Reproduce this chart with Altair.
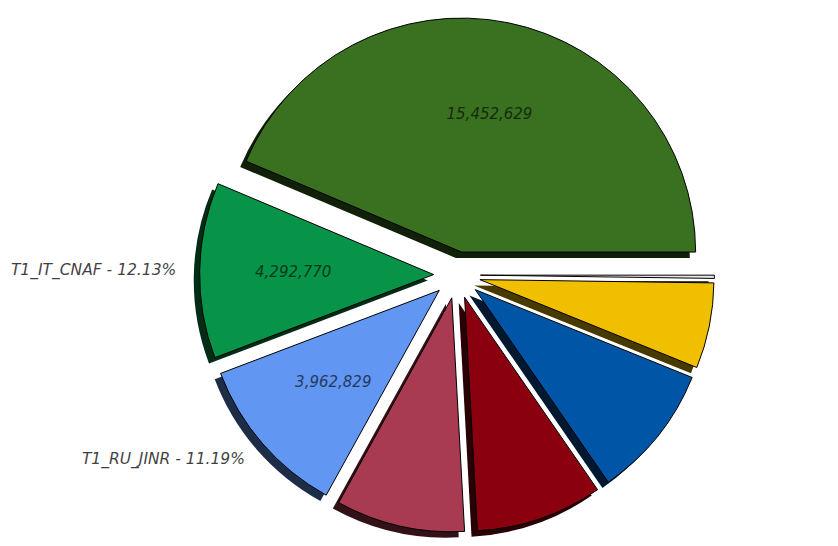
import altair as alt
import pandas as pd

# ---- data ----
names = ["T1_US_FNAL", "T1_IT_CNAF", "T1_RU_JINR", "T1_DE_KIT",
         "T1_FR_CCIN2P3", "T1_UK_RAL", "T1_ES_PIC", "T1_TW_ASGC"]
values = [15452629, 4292770, 3962829, 3151000, 3098000, 3275000, 2090000, 78772]
colors = ["#3a7121", "#079448", "#6196f2", "#a83b52",
          "#8a000f", "#0055a6", "#f0c000", "#e8e8e8"]


def darker(hexcol, f=0.3):
    h = hexcol.lstrip("#")
    r, g, b = (int(h[i:i + 2], 16) for i in (0, 2, 4))
    return "#%02x%02x%02x" % (int(r * f), int(g * f), int(b * f))


shadows = [darker(c) for c in colors]

df = pd.DataFrame({
    "idx": list(range(len(names))),
    "name": names,
    "value": values,
    "color": colors,
    "shadow": shadows,
})

# ---- layout / style ----
W, H = 838, 546
CX, CY, R = 457, 275, 234          # pie centre and radius in pixels
EXPLODE = 0.1
SHADOW = 0.025
PCTDIST = 0.6
LABELDIST = 1.1

xdom = [(0 - CX) / R, (W - CX) / R]
ydom = [(CY - H) / R, CY / R]
xs = alt.Scale(domain=xdom, zero=False, nice=False)
ys = alt.Scale(domain=ydom, zero=False, nice=False)

base = alt.Chart(df).transform_window(
    cum="sum(value)", sort=[alt.SortField("idx", order="ascending")],
    frame=[None, 0]
).transform_joinaggregate(
    total="sum(value)"
).transform_calculate(
    e="datum.cum / datum.total",
    s="(datum.cum - datum.value) / datum.total",
).transform_calculate(
    m="PI * (datum.s + datum.e)",
    t1="PI / 2 - 2 * PI * datum.e",
    t2="PI / 2 - 2 * PI * datum.s",
    pct="100 * datum.value / datum.total",
).transform_calculate(
    cx=f"{EXPLODE} * cos(datum.m)",
    cy=f"{EXPLODE} * sin(datum.m)",
).transform_calculate(
    sx=f"datum.cx - {SHADOW}",
    sy=f"datum.cy - {SHADOW}",
    vx=f"datum.cx + {PCTDIST} * cos(datum.m)",
    vy=f"datum.cy + {PCTDIST} * sin(datum.m)",
    lx=f"datum.cx + {LABELDIST} * cos(datum.m)",
    ly=f"datum.cy + {LABELDIST} * sin(datum.m)",
    vtext="format(datum.value, ',')",
    ltext="datum.name + ' - ' + format(datum.pct, '.2f') + '%'",
)

noax = dict(axis=None)

shadow_layer = base.mark_arc(radius=R, stroke=None).encode(
    x=alt.X("sx:Q", scale=xs, **noax),
    y=alt.Y("sy:Q", scale=ys, **noax),
    theta=alt.Theta("t1:Q", scale=None),
    theta2="t2:Q",
    color=alt.Color("shadow:N", scale=None),
)

wedge_layer = base.mark_arc(radius=R, stroke="black", strokeWidth=1).encode(
    x=alt.X("cx:Q", scale=xs, **noax),
    y=alt.Y("cy:Q", scale=ys, **noax),
    theta=alt.Theta("t1:Q", scale=None),
    theta2="t2:Q",
    color=alt.Color("color:N", scale=None),
)

big = base.transform_filter("datum.pct >= 10")

value_layer = big.mark_text(
    font="DejaVu Sans", fontSize=15, fontStyle="italic",
    color="black", opacity=0.62, align="center", baseline="middle",
).encode(
    x=alt.X("vx:Q", scale=xs, **noax),
    y=alt.Y("vy:Q", scale=ys, **noax),
    text="vtext:N",
)

# outer labels: only those that fall inside the visible area (the top one
# lies beyond the upper edge in the reference)
outer = big.transform_filter(f"datum.ly < {ydom[1] - 0.05}")

label_right = outer.transform_filter("cos(datum.m) < 0").mark_text(
    font="DejaVu Sans", fontSize=15.5, fontStyle="italic",
    color="black", opacity=0.75, align="right", baseline="middle",
).encode(
    x=alt.X("lx:Q", scale=xs, **noax),
    y=alt.Y("ly:Q", scale=ys, **noax),
    text="ltext:N",
)

label_left = outer.transform_filter("cos(datum.m) >= 0").mark_text(
    font="DejaVu Sans", fontSize=15.5, fontStyle="italic",
    color="black", opacity=0.75, align="left", baseline="middle",
).encode(
    x=alt.X("lx:Q", scale=xs, **noax),
    y=alt.Y("ly:Q", scale=ys, **noax),
    text="ltext:N",
)

chart = alt.layer(
    shadow_layer, wedge_layer, value_layer, label_right, label_left
).properties(
    width=W, height=H, padding=0, autosize="none", background="white"
).configure_view(stroke=None)

chart.save("out.html", embed_options={"renderer": "svg", "actions": False})
